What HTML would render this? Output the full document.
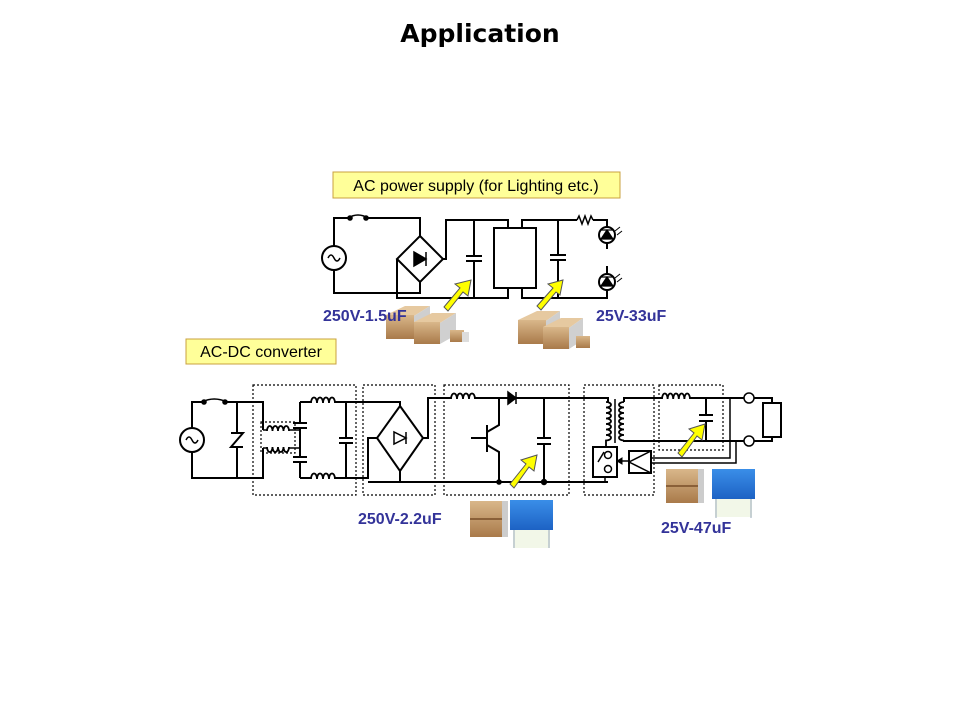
<!DOCTYPE html>
<html><head><meta charset="utf-8"><style>
html,body{margin:0;padding:0;background:#fff;}
svg{display:block}
text{font-family:"Liberation Sans",Arial,sans-serif}
</style></head><body>
<svg width="960" height="720" viewBox="0 0 960 720" xmlns="http://www.w3.org/2000/svg">
<defs>
<linearGradient id="tan" x1="0" y1="0" x2="0" y2="1"><stop offset="0" stop-color="#d9b78a"/><stop offset="1" stop-color="#a97a4a"/></linearGradient>
<linearGradient id="blu" x1="0" y1="0" x2="0" y2="1"><stop offset="0" stop-color="#3a8ee8"/><stop offset="1" stop-color="#1d62c4"/></linearGradient>
</defs>
<rect width="960" height="720" fill="#fff"/>
<text x="480" y="42" font-size="25" font-weight="bold" text-anchor="middle" style="font-family:'DejaVu Sans',Verdana,sans-serif">Application</text>

<rect x="333" y="172" width="287" height="26" fill="#ffff99" stroke="#c8a040" stroke-width="1"/>
<text x="476" y="191" font-size="16" text-anchor="middle">AC power supply (for Lighting etc.)</text>
<rect x="186" y="339" width="150" height="25" fill="#ffff99" stroke="#c8a040" stroke-width="1"/>
<text x="261" y="357" font-size="16" text-anchor="middle">AC-DC converter</text>

<g fill="none" stroke="#000" stroke-width="2">
<!-- TOP CIRCUIT -->
<path d="M334 246 V218 H348 M368 218 H420 V236 M334 270 V293 H420 V282"/>
<circle cx="334" cy="258" r="12"/>
<path d="M328 258 q3 -6 6 0 q3 6 6 0" stroke-width="1.5"/>
<path d="M348 218 q10 -6 20 0" stroke-width="1.5"/>
<circle cx="350" cy="218" r="1.8" fill="#000"/><circle cx="366" cy="218" r="1.8" fill="#000"/>
<path d="M420 236 L443 259 L420 282 L397 259 Z"/>
<path d="M397 259 V298 H508 V288 M443 259 H446 V220 H508 V228"/>
<path d="M414 252 V266 L426 259 Z M426 252 V266" fill="#000" stroke-width="1.5"/>
<path d="M474 220 V256 M474 261 V298 M466 256 H482 M466 261 H482"/>
<rect x="494" y="228" width="42" height="60"/>
<path d="M522 228 V220 H577 M593 220 H607 V227 M522 288 V298 H607 V290"/>
<path d="M577 220 l2 -4 l3 8 l3 -8 l3 8 l3 -8 l2 4" stroke-width="1.5"/>
<path d="M558 220 V255 M558 260 V298 M550 255 H566 M550 260 H566"/>
<path d="M607 243 V249 M607 266 V274"/>
<circle cx="607" cy="235" r="8"/><circle cx="607" cy="282" r="8"/>
<path d="M601 239 H613 L607 230 Z M601 230 H613 M601 286 H613 L607 277 Z M601 277 H613" fill="#000" stroke-width="1.2"/>
<path d="M615 231 l5 -4 M617 235 l5 -4 M615 278 l5 -4 M617 282 l5 -4" stroke-width="1"/>

<!-- BOTTOM CIRCUIT -->
<g stroke-dasharray="2,2" stroke-width="1.2">
<rect x="253" y="385" width="103" height="110"/>
<rect x="363" y="385" width="72" height="110"/>
<rect x="444" y="385" width="125" height="110"/>
<rect x="584" y="385" width="70" height="110"/>
<rect x="659" y="385" width="64" height="65"/>
<rect x="261" y="422" width="34" height="31"/>
</g>
<circle cx="192" cy="440" r="12"/>
<path d="M186 440 q3 -6 6 0 q3 6 6 0" stroke-width="1.5"/>
<path d="M192 428 V402 H202 M227 402 H263 V430 M192 452 V478 H263 V448"/>
<path d="M202 402 q12 -6 25 0" stroke-width="1.5"/>
<circle cx="204" cy="402" r="1.8" fill="#000"/><circle cx="225" cy="402" r="1.8" fill="#000"/>
<path d="M237 402 V433 M237 447 V478 M231 433 H243 L231 447 H243"/>
<path d="M263 430 H267 M263 448 H267 M289 430 H300 M289 448 H300" stroke-width="1.5"/>
<path d="M267 431 a2.75 5 0 1 1 5.5 0 a2.75 5 0 1 1 5.5 0 a2.75 5 0 1 1 5.5 0 a2.75 5 0 1 1 5.5 0 M267 447 a2.75 5 0 1 0 5.5 0 a2.75 5 0 1 0 5.5 0 a2.75 5 0 1 0 5.5 0 a2.75 5 0 1 0 5.5 0" stroke-width="1.8"/>
<path d="M300 402 V423 M300 428 V457 M300 462 V478 M293 423 H307 M293 428 H307 M293 457 H307 M293 462 H307"/>
<path d="M300 402 H311 M335 402 H400 V406 M300 478 H311 M335 478 H368 V438 H377 M400 471 V482"/>
<path d="M311 403 a3 5.5 0 1 1 6 0 a3 5.5 0 1 1 6 0 a3 5.5 0 1 1 6 0 a3 5.5 0 1 1 6 0 M311 479 a3 5.5 0 1 1 6 0 a3 5.5 0 1 1 6 0 a3 5.5 0 1 1 6 0 a3 5.5 0 1 1 6 0" stroke-width="1.8"/>
<path d="M346 402 V438 M346 443 V478 M339 438 H353 M339 443 H353"/>
<path d="M400 406 L423 438 L400 471 L377 438 Z"/>
<path d="M394 432 V444 L406 438 Z M406 432 V444" stroke-width="1.5"/>
<path d="M368 482 H608 M423 438 H428 V398 H451 M475 398 H508 M516 398 H608 V402"/>
<path d="M451 399 a3 5.5 0 1 1 6 0 a3 5.5 0 1 1 6 0 a3 5.5 0 1 1 6 0 a3 5.5 0 1 1 6 0" stroke-width="1.8"/>
<path d="M508 392 V404 L516 398 Z M516 392 V404" fill="#000" stroke-width="1.5"/>
<path d="M499 398 V425 L487 432 M487 425 V452 M471 438 H487 M487 445 L499 452 V482"/>
<path d="M544 398 V438 M544 444 V482 M537 438 H551 M537 444 H551"/>
<circle cx="544" cy="482" r="2.2" fill="#000"/><circle cx="499" cy="482" r="1.8" fill="#000"/>
<path d="M606 402 a5 2.75 0 1 1 0 5.5 a5 2.75 0 1 1 0 5.5 a5 2.75 0 1 1 0 5.5 a5 2.75 0 1 1 0 5.5 a5 2.75 0 1 1 0 5.5 a5 2.75 0 1 1 0 5.5 a5 2.75 0 1 1 0 5.5 V448" stroke-width="1.8"/>
<path d="M615 399 V443" stroke-width="1.5"/>
<path d="M624 402 a5 2.75 0 1 0 0 5.5 a5 2.75 0 1 0 0 5.5 a5 2.75 0 1 0 0 5.5 a5 2.75 0 1 0 0 5.5 a5 2.75 0 1 0 0 5.5 a5 2.75 0 1 0 0 5.5 a5 2.75 0 1 0 0 5.5" stroke-width="1.8"/>
<path d="M624 402 V398 H662 M690 398 H772 V403 M624 440.5 V441 H772 V437"/>
<path d="M662 399 a2.8 5.5 0 1 1 5.6 0 a2.8 5.5 0 1 1 5.6 0 a2.8 5.5 0 1 1 5.6 0 a2.8 5.5 0 1 1 5.6 0 a2.8 5.5 0 1 1 5.6 0" stroke-width="1.8"/>
<path d="M706 398 V415 M706 421 V441 M699 415 H713 M699 421 H713"/>
<rect x="763" y="403" width="18" height="34"/>
<path d="M730 398 V458 H651 M736 441 V463 H651" stroke-width="1.5"/>
<rect x="593" y="447" width="24" height="30"/>
<path d="M605 477 V483 M598 462 L604 452" stroke-width="1.5"/>
<rect x="629" y="451" width="22" height="22"/>
<path d="M629 462 L651 451 M629 462 L651 473 M629 451 V473" stroke-width="1.5"/>
<path d="M629 461 H620" stroke-width="1.5"/>
<path d="M617 461 l5 -3 v6 z" fill="#000" stroke-width="1"/>
</g>
<g fill="#fff" stroke="#000" stroke-width="1.5">
<circle cx="608" cy="455" r="3.5"/><circle cx="608" cy="469" r="3.5"/>
<circle cx="749" cy="398" r="5"/><circle cx="749" cy="441" r="5"/>
</g>

<g>
<path d="M386 315 L405 306 L430 306 L414 316 Z" fill="#e6c9a0"/>
<rect x="386" y="315" width="28" height="24" fill="url(#tan)"/>
<path d="M414 316 L430 306 V330 L414 339 Z" fill="#cfcfcf"/>
<path d="M414 322 L432 313 L456 313 L440 323 Z" fill="#e6c9a0"/>
<rect x="414" y="322" width="26" height="22" fill="url(#tan)"/>
<path d="M440 323 L456 313 V335 L440 344 Z" fill="#d0d0d0"/>
<rect x="450" y="330" width="14" height="12" fill="url(#tan)"/>
<rect x="462" y="332" width="7" height="10" fill="#ddd"/>
<path d="M518 320 L537 311 L560 311 L546 321 Z" fill="#e6c9a0"/>
<rect x="518" y="320" width="28" height="24" fill="url(#tan)"/>
<path d="M546 321 L560 311 V335 L546 344 Z" fill="#cfcfcf"/>
<path d="M543 327 L561 318 L583 318 L569 328 Z" fill="#e6c9a0"/>
<rect x="543" y="327" width="26" height="22" fill="url(#tan)"/>
<path d="M569 328 L583 318 V340 L569 349 Z" fill="#d0d0d0"/>
<rect x="576" y="336" width="14" height="12" fill="url(#tan)"/>

<rect x="470" y="501" width="32" height="36" fill="url(#tan)"/>
<rect x="470" y="518" width="32" height="2" fill="#8a6038"/>
<rect x="502" y="501" width="6" height="36" fill="#ccc"/>
<rect x="510" y="500" width="43" height="30" fill="url(#blu)"/>
<rect x="513" y="530" width="37" height="18" fill="#f2f7e8"/>
<path d="M514 530 V548 M549 530 V548" stroke="#9ab" stroke-width="1"/>
<rect x="666" y="469" width="32" height="34" fill="url(#tan)"/>
<rect x="666" y="485" width="32" height="2" fill="#8a6038"/>
<rect x="698" y="469" width="6" height="34" fill="#ccc"/>
<rect x="712" y="469" width="43" height="30" fill="url(#blu)"/>
<rect x="715" y="499" width="37" height="18" fill="#f2f7e8"/>
<path d="M716 499 V518 M751 499 V518" stroke="#9ab" stroke-width="1"/>
</g>

<g fill="#ffff00" stroke="#555" stroke-width="1">
<path d="M444 307 L460 288 L455 284 L471 280 L468 296 L463 292 L448 311 Z"/>
<path d="M537 306 L553 288 L548 284 L563 280 L560 295 L556 292 L541 310 Z"/>
<path d="M510 484 L526 464 L521 460 L537 455 L534 471 L529 467 L514 488 Z"/>
<path d="M678 453 L694 433 L689 429 L705 424 L702 440 L697 436 L682 457 Z"/>
</g>

<g fill="#333399" font-size="16" font-weight="bold">
<text x="323" y="321">250V-1.5uF</text>
<text x="596" y="321">25V-33uF</text>
<text x="358" y="524">250V-2.2uF</text>
<text x="661" y="533">25V-47uF</text>
</g>
</svg>
</body></html>
